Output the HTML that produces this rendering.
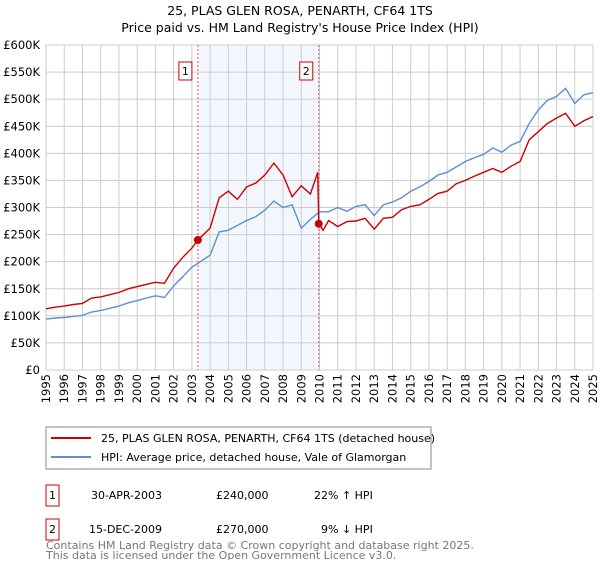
<!DOCTYPE html>
<html><head><meta charset="utf-8"><style>
body{margin:0;background:#fff;font-family:"DejaVu Sans","Liberation Sans",sans-serif;}
svg text{font-family:"DejaVu Sans","Liberation Sans",sans-serif;}
</style></head><body>
<svg id="chart" width="600" height="560" xmlns="http://www.w3.org/2000/svg">
<text x="300" y="15" text-anchor="middle" font-size="12.5">25, PLAS GLEN ROSA, PENARTH, CF64 1TS</text>
<text x="300" y="32" text-anchor="middle" font-size="12.5">Price paid vs. HM Land Registry's House Price Index (HPI)</text>
<g id="plot"></g>
<g>
<rect x="46" y="427" width="385" height="42" fill="#fff" stroke="#888"/>
<line x1="51" y1="438" x2="91" y2="438" stroke="#cc0000" stroke-width="2"/>
<text x="101" y="442" font-size="11">25, PLAS GLEN ROSA, PENARTH, CF64 1TS (detached house)</text>
<line x1="51" y1="457" x2="91" y2="457" stroke="#5b8fd4" stroke-width="2"/>
<text x="101" y="461" font-size="11">HPI: Average price, detached house, Vale of Glamorgan</text>
</g>
<g font-size="11">
<rect x="46" y="485" width="13" height="21" fill="#fff" stroke="#cc0000"/>
<text x="52.5" y="499" text-anchor="middle">1</text>
<text x="91" y="499">30-APR-2003</text>
<text x="216" y="499">£240,000</text>
<text x="314" y="499">22% ↑ HPI</text>
</g>
<g font-size="11">
<rect x="46" y="519" width="13" height="21" fill="#fff" stroke="#cc0000"/>
<text x="52.5" y="533" text-anchor="middle">2</text>
<text x="89" y="533">15-DEC-2009</text>
<text x="216" y="533">£270,000</text>
<text x="321" y="533">9% ↓ HPI</text>
</g>
<text font-size="11" fill="#777"><tspan x="46" y="549">Contains HM Land Registry data © Crown copyright and database right 2025.</tspan><tspan x="46" y="559">This data is licensed under the Open Government Licence v3.0.</tspan></text>
</svg>
<script>
const hpiYears=[1995,1995.5,1996,1996.5,1997,1997.5,1998,1998.5,1999,1999.5,2000,2000.5,2001,2001.5,2002,2002.5,2003,2003.33,2004,2004.5,2005,2005.5,2006,2006.5,2007,2007.5,2008,2008.5,2009,2009.5,2010,2010.5,2011,2011.5,2012,2012.5,2013,2013.5,2014,2014.5,2015,2015.5,2016,2016.5,2017,2017.5,2018,2018.5,2019,2019.5,2020,2020.5,2021,2021.5,2022,2022.5,2023,2023.5,2024,2024.5,2025];
const hpiValues=[94,96,97,99,101,107,110,114,118,124,128,133,137,134,155,172,190,197,212,255,258,267,276,283,295,312,300,305,262,278,292,292,300,293,302,305,285,305,310,318,330,338,348,360,365,375,385,392,398,410,402,415,422,455,480,498,505,520,492,508,512];
const ppYears=[1995,1995.5,1996,1996.5,1997,1997.5,1998,1998.5,1999,1999.5,2000,2000.5,2001,2001.5,2002,2002.5,2003,2003.33,2004,2004.5,2005,2005.5,2006,2006.5,2007,2007.5,2008,2008.5,2009,2009.5,2009.9,2009.96,2010.2,2010.5,2011,2011.5,2012,2012.5,2013,2013.5,2014,2014.5,2015,2015.5,2016,2016.5,2017,2017.5,2018,2018.5,2019,2019.5,2020,2020.5,2021,2021.5,2022,2022.5,2023,2023.5,2024,2024.5,2025];
const ppValues=[113,116,118,121,123,133,135,139,143,150,154,158,162,160,188,208,225,240,262,318,330,315,338,345,360,382,360,320,340,325,365,270,258,276,265,274,275,280,260,280,282,296,302,305,315,326,330,344,350,358,365,372,365,376,385,425,440,455,465,474,450,460,468];
const yTicks=[0,50,100,150,200,250,300,350,400,450,500,550,600];
const xTicks=[1995,1996,1997,1998,1999,2000,2001,2002,2003,2004,2005,2006,2007,2008,2009,2010,2011,2012,2013,2014,2015,2016,2017,2018,2019,2020,2021,2022,2023,2024,2025];
const sales=[[2003.33,240],[2009.96,270]];
const L=46,R=593,T=45,B=370;
const X=y=>L+(y-1995)/30*(R-L);
const Y=v=>B-v/600*(B-T);
const NS='http://www.w3.org/2000/svg';
const g=document.getElementById('plot');
function mk(t,a,p){const e=document.createElementNS(NS,t);for(const k in a)e.setAttribute(k,a[k]);(p||g).appendChild(e);return e;}
const bg=mk('rect',{x:L,y:T,width:R-L,height:B-T,fill:'#fff'});


const sh=mk('rect',{x:X(sales[0][0]),y:T,width:X(sales[1][0])-X(sales[0][0]),height:B-T,fill:'#eef3fc',opacity:0.7});


yTicks.forEach(v=>{
 const l=mk('line',{x1:L,x2:R,y1:Y(v),y2:Y(v),stroke:'#ccc'});
 
 
 const t=mk('text',{x:L-6,y:Y(v)+4,'text-anchor':'end','font-size':'11.5'});
 t.textContent='£'+(v?v+'K':'0');
 
 
});
xTicks.forEach(yr=>{
 const l=mk('line',{x1:X(yr),x2:X(yr),y1:T,y2:B,stroke:'#ccc'});
 
 
 const t=mk('text',{x:0,y:0,'text-anchor':'end','font-size':'11.5',transform:`translate(${X(yr)+4},374) rotate(-90)`});
 t.textContent=yr;
 
 
});
sales.forEach((s,i)=>{
 const l=mk('line',{x1:X(s[0]),x2:X(s[0]),y1:T,y2:B,stroke:'#e55',"stroke-dasharray":'2,2'});
 
 
 const r=mk('rect',{x:X(s[0])-19,y:62,width:13,height:18,fill:'#fff',stroke:'#cc0000'});
 
 
 const t=mk('text',{x:X(s[0])-12.5,y:75,'text-anchor':'middle','font-size':'11'});
 t.textContent=i+1;
 
 
});
function path(xs,vs,c,name){
 const p=mk('path',{d:xs.map((x,i)=>(i?'L':'M')+X(x).toFixed(1)+','+Y(vs[i]).toFixed(1)).join(''),fill:'none',stroke:c,'stroke-width':1.4});
 
 
}
path(hpiYears,hpiValues,'#5b8fd4','hpi-line');
path(ppYears,ppValues,'#cc0000','price-paid-line');
sales.forEach(s=>{
 const c=mk('circle',{cx:X(s[0]),cy:Y(s[1]),r:4,fill:'#cc0000'});
 
 
});
</script>
</body></html>
